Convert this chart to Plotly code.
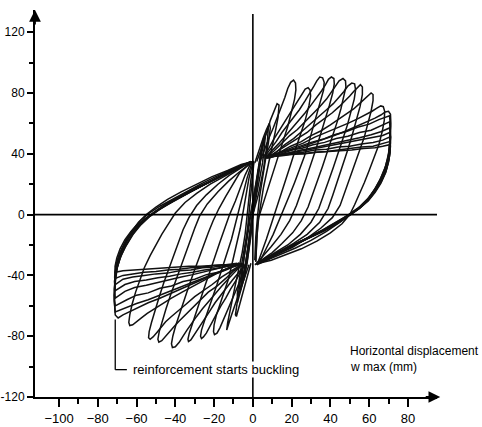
import plotly.graph_objects as go

# ---------------- data (displacement mm, force) -------------
# positive half-cycles with a lobe (loading -> peak -> unloading)
POS_LOBE_X = [
    [1, 2.5, 4, 5.5, 7, 8.5, 9, 8, 6.5, 5, 3.5, 2.5, 1.5, 1],
    [2, 4, 5.5, 7.5, 9, 11, 12.5, 13.5, 13, 11.5, 9.5, 7.5, 5.5, 4, 2.5, 2, 1.5],
    [4, 6, 8.5, 10.5, 13, 15, 16.5, 18, 19.5, 21, 22, 22.2, 21.5, 20, 18, 15.5, 13, 10.5, 8, 5.5, 3, 2, 1.5],
    [5, 8, 10.5, 13.5, 16, 19, 21.5, 24, 25.5, 27, 28.5, 29.5, 29.8, 29, 27, 24.5, 22, 19.5, 17, 14.5, 12, 9.5, 7, 4.5, 2.5],
    [6, 9, 12, 15, 18, 21, 24, 27, 29.5, 31.5, 33, 34.5, 36, 36.8, 36.5, 35, 33, 31, 29, 26.5, 24, 21.5, 19, 16.5, 14, 10.5, 7, 3.5],
    [6, 10, 13.5, 17, 20.5, 24, 27, 30, 33, 35.5, 37.5, 39, 40.5, 41.8, 42, 41.2, 39.5, 37.5, 35, 32.5, 30, 27.5, 25, 22.5, 19, 14.5, 9.5, 5, 2],
    [7, 11, 15, 19, 23, 27, 31, 34.5, 38, 40.5, 42.5, 44.5, 46.5, 47.8, 48, 47, 45.5, 43.5, 41, 38.5, 36, 33.5, 31, 28.5, 25, 20.5, 15, 10, 5.5, 2.5],
    [7, 12, 16.5, 21, 25.5, 30, 34, 38, 41.5, 44.5, 47, 49, 51, 52.5, 53, 52.3, 50.8, 48.8, 46.5, 44, 41.5, 39, 36.5, 34, 30, 24.5, 18, 11.5, 6, 2.5],
    [8, 13, 18, 23, 28, 32.5, 37, 41, 44.5, 47.5, 50, 52, 54, 55.5, 56.5, 56.5, 55.3, 53.5, 51.2, 48.8, 46.3, 43.8, 41.3, 38.8, 34.5, 28, 21, 14, 7.5, 3],
    [8, 14, 19.5, 25, 30, 35, 40, 44.5, 48.5, 52, 55, 57.5, 59.5, 61, 62, 62, 61, 59.5, 57.5, 55, 52.5, 50, 47.5, 45, 41, 35, 28, 20.5, 13, 7, 3],
    [8, 14, 20, 26, 32, 38, 43.5, 49, 54, 58, 61.5, 64, 66, 67.3, 68, 67.8, 66.8, 65, 62.5, 60, 57.5, 55, 52.5, 50, 46, 40, 33, 25, 17, 9.5, 3],
    [8, 15, 22, 29, 36, 42, 48, 53.5, 58.5, 63, 66, 68.3, 70, 71, 71.2, 70.8, 70, 68.5, 66, 63, 59.5, 55.5, 51, 45, 38, 30, 22, 14, 7, 2],
]
POS_LOBE_Y = [
    [34, 40, 46, 51, 56, 60, 57, 47, 36, 24, 12, 0, -15, -30],
    [35, 42, 49, 55, 62, 68, 73, 72, 64, 54, 42, 30, 18, 6, -6, -18, -31],
    [36, 43, 51, 57, 65, 71, 77, 83, 87, 88.5, 86.5, 82, 76, 68, 58, 48, 38, 27, 17, 7, -2, -16, -31],
    [37, 43, 49, 55, 60, 66, 71, 76, 79.5, 82.5, 83.5, 82, 78, 72, 62, 53, 43, 33, 23, 13, 4, -6, -16, -25, -32],
    [38, 43, 48, 54, 59, 64, 69, 75, 80, 84.5, 88, 90.5, 90, 87, 82, 75, 66, 57, 48, 38, 29, 21, 13, 5, -3, -13, -22, -31],
    [37, 42, 47, 52, 57, 62, 67, 72, 77, 81.5, 85.5, 89, 90.5, 89.5, 86, 80, 72, 63, 53, 43, 33, 24, 15, 6, -4, -13, -21, -28, -32],
    [38, 42, 47, 52, 56, 61, 66, 71, 76, 80.5, 84.5, 88, 89.5, 88, 84, 78, 70, 61, 51, 41, 32, 23, 14, 5, -4, -12, -19, -25, -29, -32],
    [37, 41, 46, 50, 55, 60, 64, 69, 73, 77, 81, 84.5, 86.5, 86, 82, 76, 68, 59, 50, 40, 31, 22, 13, 4, -5, -13, -20, -25, -29, -32],
    [38, 42, 46, 50, 54, 59, 63, 67, 71, 74.5, 78, 81, 84, 85.5, 84, 79, 71, 62, 52, 42, 32, 22, 13, 4, -5, -13, -19, -24, -29, -32],
    [38, 41, 45, 48, 52, 55, 59, 63, 66, 69.5, 73, 76, 78.5, 80, 79, 75, 68, 60, 51, 42, 33, 24, 15, 6, -2, -9, -15.5, -21.5, -26, -30, -32],
    [38, 41, 44, 47, 51, 54, 57, 60, 63, 65.5, 68, 70, 71.5, 71, 68, 62, 55, 46, 37, 29, 21, 13.5, 6.5, 0, -6, -12, -17.5, -22.5, -26.5, -30, -32],
    [37, 40, 43, 46, 49, 52, 55, 58, 61, 63.5, 65.5, 67.5, 68, 66, 60, 50, 40, 32, 24, 17, 10, 5, 1, -5, -11, -17, -22, -26, -30, -33],
]

# positive half-cycles repeated at +70 mm (fan of reloading lines)
POS_FAN_X = [
    [6, 12, 18, 24, 30, 36, 42, 48, 54, 60, 65, 70.5, 71, 70.8, 70.5, 69.5, 67.5, 65, 62, 58, 53.5, 48.5, 42, 35, 27, 19, 11, 5, 1],
    [7, 13, 19, 25, 31, 37, 43, 49, 55, 61, 66, 70.5, 71, 70.6, 69.8, 68, 65.5, 62.5, 59, 54.5, 49.5, 43, 36, 28, 20, 12, 6, 1.5],
    [7, 13, 19, 25, 31, 37, 43, 49, 55, 61, 66, 70.5, 71.2, 70.8, 70, 68.3, 65.8, 62.8, 59.3, 55, 50, 44, 37, 29, 21, 13, 6.5, 2],
    [8, 14, 20, 26, 32, 38, 44, 50, 56, 62, 67, 70.5, 71, 70.3, 68.8, 66.3, 63.3, 59.8, 55.5, 50.5, 44.5, 37.5, 29.5, 21.5, 13.5, 7, 2.5],
    [8, 14, 20, 26, 32, 38, 44, 50, 56, 62, 67, 70.5, 71, 70.4, 69, 66.6, 63.6, 60, 55.8, 51, 45, 38, 30, 22, 14, 7.5, 3],
    [8, 14, 20, 26, 32, 38, 44, 50, 56, 62, 67, 70.5, 70.9, 70.2, 68.7, 66.2, 63.2, 59.6, 55.3, 50.3, 44.3, 37.3, 29.3, 21.3, 13.3, 7, 2],
    [9, 15, 21, 27, 33, 39, 45, 51, 57, 63, 67, 70.5, 70.8, 70, 68.5, 66, 63, 59.5, 55, 50, 44, 37, 29, 21, 13, 6.5, 2],
]
POS_FAN_Y = [
    [37, 39.5, 42.5, 44.5, 47.5, 49.5, 52.5, 54.5, 57.5, 59.5, 62.5, 65, 58, 50, 43, 35, 27, 20, 14, 8, 3, -1, -6, -11, -16, -21, -26, -30, -33],
    [38, 40, 42.5, 43.5, 46, 47.5, 50, 51.5, 54, 55.5, 58.5, 61, 54, 46, 38, 30, 22.5, 16, 10, 4.5, 0, -5, -10, -15.5, -20.5, -25.5, -29.5, -32.5],
    [37, 39, 40.5, 42.5, 44, 45.5, 47.5, 49, 50.5, 52.5, 54.5, 57, 51, 45, 37.5, 29.5, 22, 15.5, 9.5, 4, -0.5, -5.5, -10.5, -15, -20, -25, -29, -32],
    [38, 39, 41, 42, 43.5, 45, 46, 47.5, 49, 50.5, 52, 54, 47, 39, 31, 23.5, 17, 11, 5.5, 1, -4.5, -9.5, -14.5, -19.5, -24.5, -28.5, -31.5],
    [39, 39.5, 40.5, 41, 42.5, 43, 44.5, 45, 46.5, 47.5, 49, 51, 45, 38, 30.5, 23, 16.5, 10.5, 5, 0.5, -4.5, -9.5, -14.5, -19.5, -24.5, -28.5, -31.5],
    [38, 38.5, 39.5, 40, 41, 41.5, 42.5, 43.5, 44.5, 45, 46.5, 48, 43, 36, 28.5, 21.5, 15.5, 9.5, 4.5, 0, -5, -10, -15, -20, -25, -29, -32.5],
    [39, 39, 40, 40, 41, 41.5, 42, 42.5, 43.5, 44, 45, 46, 41, 34.5, 27.5, 20.5, 14.5, 9, 4, -0.5, -5.5, -10.5, -15.5, -20.5, -25, -29, -32.5],
]

# negative half-cycles with a lobe
NEG_LOBE_X = [
    [-1, -2.5, -4, -5.5, -7, -8.5, -9, -8, -6.5, -5, -3.5, -2.5, -1.5, -0.5, 0.5],
    [-2, -3.5, -5.5, -7.5, -9.5, -11, -12.5, -13.5, -13, -11.5, -9.5, -7.5, -5.5, -4, -3, -2, -1, 0.5],
    [-3, -5, -7.5, -9.5, -12, -14, -15.5, -17, -18.5, -19.8, -20.3, -20, -18.8, -17, -15, -12.5, -10.5, -8.5, -6.5, -5, -3.5, -2, 0],
    [-4, -6.5, -9, -11.5, -14, -16.5, -19, -21, -22.5, -24, -25.5, -26.5, -27, -26.5, -25, -23, -21, -18.5, -16, -13.5, -11, -9, -7, -5, -3, -0.5],
    [-4, -7.5, -10.5, -13.5, -16.5, -19.5, -22, -24.5, -26.5, -28.5, -30.5, -32, -33.2, -33.5, -32.8, -31.3, -29.3, -27, -24.5, -22, -19.5, -17, -14.5, -12, -9, -6.5, -4, -1],
    [-5, -9, -12.5, -16, -19.5, -23, -26, -29, -32, -34, -36, -38, -40, -41.5, -42, -41.3, -39.8, -37.8, -35.5, -33, -30.5, -28, -25.5, -23, -20.5, -17.5, -14, -10.5, -7, -3, 0],
    [-5, -10, -14, -18.5, -23, -27, -31, -34.5, -38, -40.5, -43, -45, -47, -48.5, -49, -48.3, -46.8, -44.8, -42.5, -40, -37.5, -35, -32.5, -30, -27.5, -23.5, -18, -12.5, -7, -3, 0],
    [-6, -11, -16, -21, -25.5, -30, -34.5, -38.5, -42, -45, -47.5, -49.5, -51.5, -53, -53.8, -53.5, -52.3, -50.5, -48.3, -46, -43.5, -41, -38.5, -36, -33, -29, -24, -18, -12, -7, -2],
    [-7, -13, -19, -25, -31, -36.5, -42, -47, -51, -54.5, -57.5, -60, -62, -63.5, -64, -63.5, -62.3, -60.5, -58.3, -56, -53, -50, -47, -43.5, -40, -35, -29, -22, -15, -8, -2],
    [-7, -14, -21, -28, -35, -42, -48, -54, -59, -63.5, -67, -69.5, -71, -71.5, -71, -70, -68, -65.5, -62.5, -59, -55, -50, -44, -37, -29, -21, -13, -6, 0],
]
NEG_LOBE_Y = [
    [-32, -39, -46, -53, -60, -67, -66, -56, -44, -32, -19, -6, 8, 22, 34],
    [-33, -39, -46, -53, -60, -66, -72, -76, -71, -61, -49, -37, -25, -13, -1, 11, 23, 35],
    [-33, -39, -46, -52, -59, -65, -70, -74.5, -78, -79, -77, -72.5, -66, -59, -51, -42, -31, -20, -9, 2, 13, 24, 34],
    [-33, -38, -44, -49, -55, -60, -66, -71, -74.5, -78, -80.5, -81.5, -80, -76, -70, -63, -55, -46, -36, -26, -16, -6, 4, 14, 24, 34],
    [-33, -38, -43, -48, -53, -58, -63, -68, -72, -76, -80, -82.5, -83.5, -82, -78, -72, -64, -55, -46, -37, -27, -18, -9, 0, 9, 18, 26, 34],
    [-32, -37, -42, -47, -52, -57, -62, -67, -72, -76, -80, -84, -87, -87.5, -85, -80, -73, -65, -56, -47, -38, -29, -20, -12, -4, 4, 12, 20, 27, 32, 35],
    [-33, -37, -42, -47, -51, -56, -61, -65, -70, -73.5, -77, -80.5, -83, -84, -82, -77, -70, -62, -53, -44, -35, -26, -17, -9, -1, 7, 15, 22, 28, 32, 35],
    [-33, -37, -41, -46, -50, -54, -59, -63, -67, -70.5, -74, -77.5, -80.5, -82, -81, -77, -71, -63, -54, -45, -36, -27, -19, -10, -2, 6, 13, 20, 26, 30, 34],
    [-32, -36, -39, -43, -47, -51, -55, -59, -62, -65, -68, -70.5, -72.5, -73, -71, -66, -59, -51, -43, -35, -27, -20, -13, -6, 1, 8, 14, 20, 25, 30, 34],
    [-32, -36, -40, -44, -48, -52, -55, -58, -61, -64, -66, -68, -66, -56, -45, -35, -26, -18, -11, -5, 0, 5, 10, 15, 20, 25, 29, 33, 35],
]

# negative half-cycles repeated at -70 mm (fan)
NEG_FAN_X = [
    [-6, -12, -18, -24, -30, -36, -42, -48, -54, -60, -65, -71, -71.5, -71.3, -71, -70, -68, -65.5, -62, -58, -54, -48, -41, -34, -27, -20, -12, -5, 0],
    [-6, -12, -18, -24, -30, -36, -42, -48, -54, -60, -65, -71, -71.6, -71.2, -70.4, -68.6, -66, -62.8, -59, -54.5, -49, -42, -35, -28, -20, -12, -5, 0.5],
    [-7, -13, -19, -25, -31, -37, -43, -49, -55, -61, -66, -71, -71.5, -71, -70, -68, -65.2, -61.8, -58, -53.5, -48, -41.5, -34.5, -27, -19.5, -12, -5, 0],
    [-7, -13, -19, -25, -31, -37, -43, -49, -55, -61, -66, -71, -71.4, -70.7, -69.3, -67, -64, -60.5, -56.5, -51.5, -45.5, -38.5, -31, -23, -15, -7.5, -1],
    [-8, -14, -20, -26, -32, -38, -44, -50, -56, -62, -67, -71, -71.3, -70.6, -69, -66.6, -63.6, -60, -55.8, -50.8, -44.8, -37.8, -30, -22, -14, -7, -1],
    [-8, -14, -20, -26, -32, -38, -44, -50, -56, -62, -67, -71, -71.2, -70.4, -68.8, -66.3, -63.2, -59.5, -55.2, -50, -44, -37, -29.5, -21.5, -13.5, -6.5, -1],
    [-9, -15, -21, -27, -33, -39, -45, -51, -57, -63, -67, -71, -71.1, -70.2, -68.5, -66, -62.8, -59, -54.5, -49.5, -43.5, -36.5, -29, -21, -13, -6, 0],
]
NEG_FAN_Y = [
    [-32, -35, -38.5, -41, -44.5, -47, -50.5, -53, -56, -58.5, -61, -64, -57, -49, -41, -33, -25, -17, -10, -4, 0.5, 5.5, 10.5, 15, 20, 24.5, 29, 33, 35],
    [-33, -35, -38, -39.5, -42.5, -44, -47, -48.5, -51.5, -53, -56, -60, -53, -45, -37, -29, -21.5, -14.5, -8, -2.5, 3, 8, 13, 18, 23.5, 28.5, 32.5, 35],
    [-32, -34, -36, -37.5, -39.5, -41, -43, -44.5, -46.5, -48, -50.5, -55, -49, -42, -34.5, -27, -20, -13, -7, -1.5, 3.5, 8.5, 13.5, 18.5, 23.5, 28, 32.5, 35],
    [-33, -34, -35.5, -36.5, -38, -39, -40.5, -41.5, -43, -44, -46, -50, -44, -37, -29.5, -22.5, -15.5, -9.5, -4, 1, 6, 11, 16, 21, 26, 31, 35],
    [-33, -33.5, -34.5, -35, -36.5, -37, -38.5, -39, -40, -41, -42.5, -46, -41, -34.5, -27.5, -20.5, -14, -8.5, -3, 1.5, 6.5, 11.5, 16.5, 21.5, 26.5, 31, 34.5],
    [-32, -33, -33.5, -34.5, -35, -36, -36.5, -37.5, -38, -39, -40, -42, -38, -32, -25.5, -19, -13, -7.5, -2.5, 2, 7, 12, 17, 22, 27, 31.5, 35],
    [-33, -33, -33.5, -34, -34, -34.5, -35, -35.5, -36, -36.5, -37, -38, -34, -28.5, -22.5, -16.5, -11, -6, -1.5, 3, 8, 13, 18, 22.5, 27.5, 32, 35],
]

# small initial (elastic) cycles
ELASTIC_X = [
    [0, 2, 4, 5, 4, 2, 0, -2, -4, -5, -4, -2, 0],
    [0, 2.5, 5, 6.5, 5.5, 3, 0.5, -2, -4.5, -6.5, -6, -3.5, -1, 0],
    [0, 3, 5.5, 7.5, 8, 6, 3, 0, -3, -6, -8, -8, -5, -2, 0],
    [0, 1.5, 3, 4, 3, 1, -1, -3, -4, -3, -1, 0],
]
ELASTIC_Y = [
    [0, 18, 36, 46, 40, 22, 4, -14, -32, -44, -40, -22, 0],
    [0, 16, 34, 52, 50, 32, 12, -8, -28, -50, -48, -30, -10, 0],
    [0, 14, 30, 48, 58, 50, 30, 10, -12, -34, -52, -58, -44, -20, 0],
    [0, 14, 28, 36, 30, 12, -6, -24, -36, -32, -14, 0],
]

X_TICKS = [-100, -80, -60, -40, -20, 0, 20, 40, 60, 80]
X_MINOR = [-90, -70, -50, -30, -10, 10, 30, 50, 70]
Y_TICKS = [-120, -80, -40, 0, 40, 80, 120]
Y_TICK_TEXT = ["-120", "-80", "-40", "0", "40", "80", "120"]
Y_MINOR = [-100, -60, -20, 20, 60, 100]

BUCKLING_X = -71
BUCKLING_Y = [-69, -102]

# ---------------- figure ----------------
fig = go.Figure()
LINE = dict(color="#111111", width=1.5)

groups = [(ELASTIC_X, ELASTIC_Y), (POS_LOBE_X, POS_LOBE_Y), (NEG_LOBE_X, NEG_LOBE_Y),
          (POS_FAN_X, POS_FAN_Y), (NEG_FAN_X, NEG_FAN_Y)]
for gx, gy in groups:
    for xs, ys in zip(gx, gy):
        n = min(len(xs), len(ys))
        fig.add_trace(go.Scatter(x=xs[:n], y=ys[:n], mode="lines", line=LINE,
                                 showlegend=False, hoverinfo="skip"))

XR = [-112.4, 95]
YR = [-120, 134.6]

shapes = [
    dict(type="line", xref="x", yref="y", x0=0, x1=0, y0=YR[0], y1=132,
         line=dict(color="black", width=1.6)),
    dict(type="line", xref="x", yref="y", x0=XR[0], x1=XR[1], y0=0, y1=0,
         line=dict(color="black", width=1.8)),
    dict(type="line", xref="x", yref="y", x0=BUCKLING_X, x1=BUCKLING_X,
         y0=BUCKLING_Y[0], y1=BUCKLING_Y[1], line=dict(color="black", width=1.3)),
    dict(type="line", xref="x", yref="y", x0=BUCKLING_X, x1=BUCKLING_X + 6,
         y0=BUCKLING_Y[1], y1=BUCKLING_Y[1], line=dict(color="black", width=1.3)),
]

FONT = "Liberation Sans, Arial, sans-serif"
annotations = [
    dict(xref="paper", yref="paper", x=0, y=1.0, ax=0, ay=16, text="", showarrow=True,
         arrowhead=2, arrowsize=1.3, arrowwidth=1.8, arrowcolor="black"),
    dict(xref="paper", yref="paper", x=1.008, y=0, ax=-16, ay=0, text="", showarrow=True,
         arrowhead=2, arrowsize=1.3, arrowwidth=1.8, arrowcolor="black"),
    dict(xref="x", yref="y", x=BUCKLING_X + 8.5, y=BUCKLING_Y[1], text="reinforcement starts buckling",
         showarrow=False, xanchor="left", yanchor="middle", bgcolor="white", borderpad=0,
         font=dict(family=FONT, size=13, color="black")),
    dict(xref="x", yref="y", x=49, y=-90, text="Horizontal displacement",
         showarrow=False, xanchor="left", yanchor="middle",
         font=dict(family=FONT, size=12, color="black")),
    dict(xref="x", yref="y", x=49, y=-100.5, text="w max (mm)",
         showarrow=False, xanchor="left", yanchor="middle",
         font=dict(family=FONT, size=12, color="black")),
]

fig.update_layout(
    width=482, height=427,
    margin=dict(l=35, r=45, t=10, b=30, autoexpand=False),
    paper_bgcolor="white", plot_bgcolor="white",
    shapes=shapes, annotations=annotations,
    font=dict(family=FONT, size=13, color="black"),
    xaxis=dict(range=XR, tickmode="array", tickvals=X_TICKS, automargin=False,
               ticks="outside", ticklen=8, tickwidth=1.5, tickcolor="black",
               showline=True, linecolor="black", linewidth=2,
               showgrid=False, zeroline=False,
               minor=dict(tickmode="array", tickvals=X_MINOR, ticks="outside",
                          ticklen=5, tickwidth=1.5, tickcolor="black", showgrid=False),
               tickfont=dict(family=FONT, size=13)),
    yaxis=dict(range=YR, tickmode="array", tickvals=Y_TICKS, ticktext=Y_TICK_TEXT,
               automargin=False,
               ticks="outside", ticklen=6, tickwidth=1.5, tickcolor="black",
               showline=True, linecolor="black", linewidth=2,
               showgrid=False, zeroline=False,
               minor=dict(tickmode="array", tickvals=Y_MINOR, ticks="outside",
                          ticklen=4, tickwidth=1.5, tickcolor="black", showgrid=False),
               tickfont=dict(family=FONT, size=12)),
)

fig.write_html("out.html")
